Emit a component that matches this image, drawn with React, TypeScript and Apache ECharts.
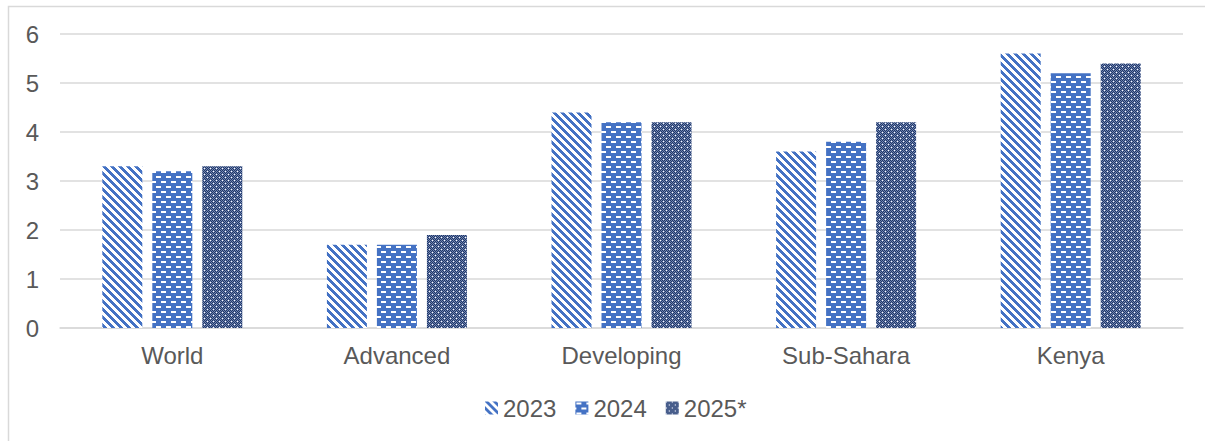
import React, { useEffect, useRef } from "react";
import * as echarts from "echarts";

const categories = ["World", "Advanced", "Developing", "Sub-Sahara", "Kenya"];
const seriesNames = ["2023", "2024", "2025*"];
const values2023 = [3.3, 1.7, 4.4, 3.6, 5.6];
const values2024 = [3.2, 1.7, 4.2, 3.8, 5.2];
const values2025 = [3.3, 1.9, 4.2, 4.2, 5.4];

const BLUE = "#4472C4";
const NAVY = "#203864";

function makeTile(w: number, h: number, fn: (x: number, y: number) => string) {
  const c = document.createElement("canvas");
  c.width = w;
  c.height = h;
  const ctx = c.getContext("2d")!;
  for (let y = 0; y < h; y++) {
    for (let x = 0; x < w; x++) {
      ctx.fillStyle = fn(x, y);
      ctx.fillRect(x, y, 1, 1);
    }
  }
  return { image: c, repeat: "repeat", imageWidth: w, imageHeight: h };
}

export default function App() {
  const ref = useRef<HTMLDivElement>(null);
  useEffect(() => {
    if (!ref.current) return;
    const chart = echarts.init(ref.current, null, { renderer: "svg" });

    const pat2023 = makeTile(8, 8, (x, y) => (((x - y) % 8) + 8) % 8 < 4 ? BLUE : "#ffffff");
    const pat2024 = makeTile(10, 10, (x, y) => {
      if ((y === 1 || y === 2) && x >= 1 && x <= 5) return "#ffffff";
      if ((y === 6 || y === 7) && (x >= 6 || x === 0)) return "#ffffff";
      return BLUE;
    });
    const pat2025 = makeTile(6, 6, (x, y) => {
      if ((x === 3 && y === 3) || (x === 0 && y === 0)) return "#ffffff";
      if ((x + y) % 2 === 1) return "#7083B3";
      return NAVY;
    });

    const font = "'Liberation Sans', Arial, sans-serif";
    const mk = (name: string, data: number[], color: any) => ({
      name,
      type: "bar",
      data,
      barWidth: 40,
      barGap: "25%",
      itemStyle: { color },
    });

    chart.setOption({
      animation: false,
      backgroundColor: "#ffffff",
      graphic: [
        {
          type: "rect",
          shape: { x: 8.5, y: 6.5, width: 1400, height: 600 },
          style: { fill: "none", stroke: "#D9D9D9", lineWidth: 1.5 },
          silent: true,
        },
      ],
      grid: { left: 60, right: 22, top: 34, bottom: 113, containLabel: false },
      legend: {
        left: 485,
        top: 396,
        padding: 0,
        itemWidth: 13,
        itemHeight: 13,
        itemGap: 19,
        icon: "rect",
        textStyle: { fontSize: 24, color: "#595959", fontFamily: font },
        data: seriesNames,
      },
      xAxis: {
        type: "category",
        data: categories,
        axisLine: { lineStyle: { color: "#D9D9D9", width: 1.5 } },
        axisTick: { show: false },
        axisLabel: { fontSize: 24, color: "#595959", fontFamily: font, margin: 15 },
      },
      yAxis: {
        type: "value",
        min: 0,
        max: 6,
        interval: 1,
        axisLine: { show: false },
        axisTick: { show: false },
        splitLine: { lineStyle: { color: "#D9D9D9", width: 1.5 } },
        axisLabel: { fontSize: 24, color: "#595959", fontFamily: font, margin: 21 },
      },
      series: [
        mk(seriesNames[0], values2023, pat2023),
        mk(seriesNames[1], values2024, pat2024),
        mk(seriesNames[2], values2025, pat2025),
      ],
    });
    return () => chart.dispose();
  }, []);
  return (
    <div
      ref={ref}
      style={{ position: "absolute", left: 0, top: 0, width: 1205, height: 441 }}
    />
  );
}
